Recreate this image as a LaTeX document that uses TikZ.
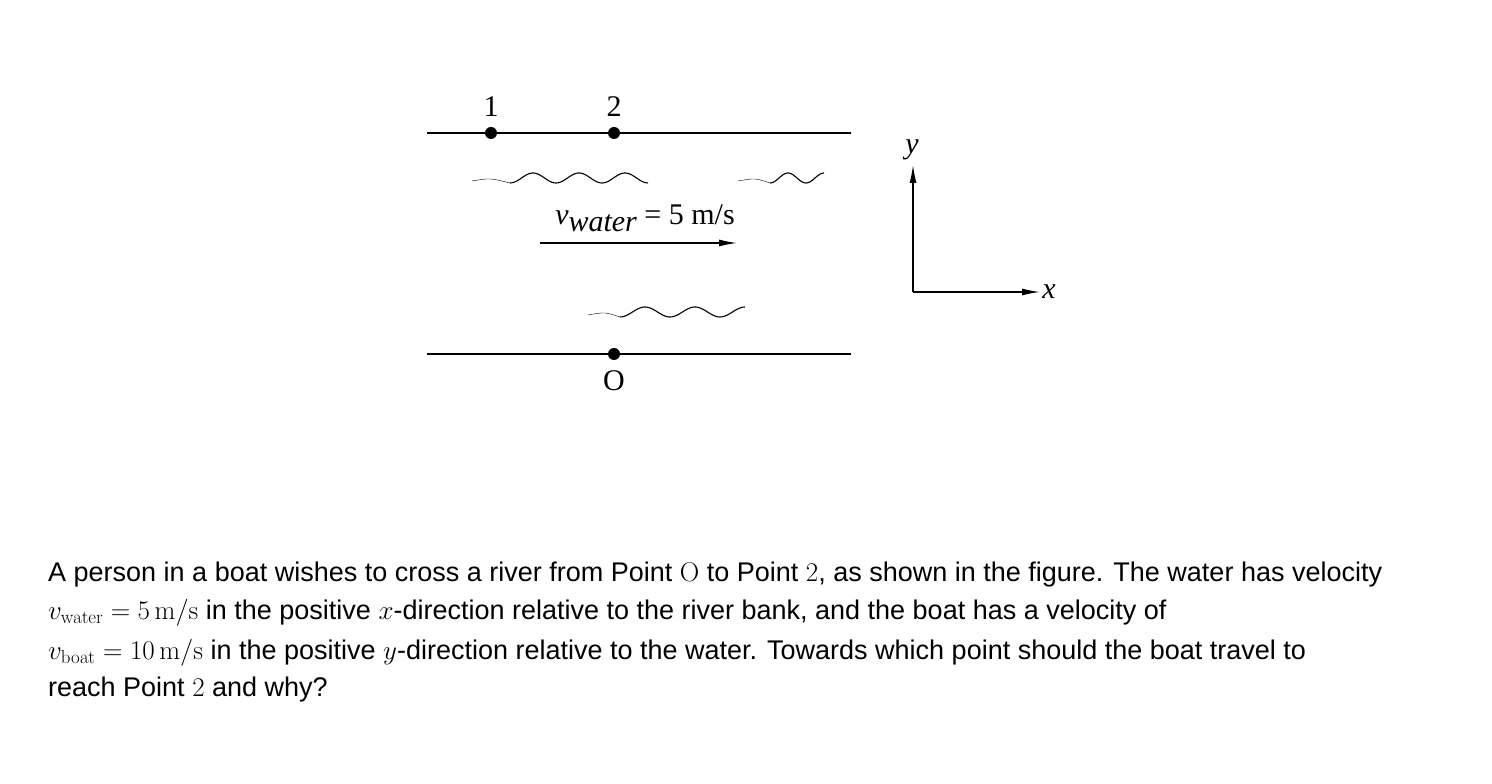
\documentclass[tikz,border=0pt]{standalone}
\usepackage{fix-cm}
\usepackage[no-math]{fontspec}
\setmainfont{Liberation Sans}
\newfontfamily\serifdia{Liberation Serif}
\usetikzlibrary{arrows.meta}
\begin{document}
\begin{tikzpicture}[x=1pt,y=1pt,
  bank/.style={line width=1.3pt},
  dot/.style={circle,fill=black,inner sep=0pt,minimum size=12pt},
  dlab/.style={font=\serifdia\fontsize{30}{32}\selectfont,inner sep=0pt},
  wave/.style={line width=1.1pt},
  txt/.style={anchor=west,inner sep=0pt,font=\fontsize{27}{32}\selectfont}]
\useasboundingbox (0,0) rectangle (1492,784);
% banks
\coordinate (tl) at (427,651); \coordinate (tr) at (851,651);
\coordinate (bl) at (427,430); \coordinate (br) at (851,430);
\draw[bank] (tl) -- (tr);
\draw[bank] (bl) -- (br);
\node[dot] (p1) at (491,651) {};
\node[dot] (p2) at (614,651) {};
\node[dot] (pO) at (614,430) {};
\node[dlab] (l1) at (491,677) {1};
\node[dlab] (l2) at (614,677) {2};
\node[dlab] (lO) at (614,403) {O};
% waves
\draw[wave,domain=0:3,samples=90,smooth] plot ({510+\x*46},{606-5*cos(\x*360)});
\draw[thin] (472,603) .. controls (490,606) .. (510,601);
\draw[wave,domain=0:1.5,samples=50,smooth] plot ({770+\x*36},{606-5*cos(\x*360)});
\draw[thin] (738,603) .. controls (755,606) .. (770,601);
\draw[wave,domain=0:2.5,samples=80,smooth] plot ({620+\x*50},{472-5*cos(\x*360)});
\draw[thin] (588,469) .. controls (605,472) .. (620,467);
% velocity
\node[dlab] (vw) at (645,566) {\textit{v}\raisebox{-7pt}{\textit{water}} = 5 m/s};
\coordinate (va) at (540,541); \coordinate (vb) at (737,541);
\draw[line width=1.3pt,-{Latex[length=18pt,width=7pt]}] (va) -- (vb);
% axes
\coordinate (o) at (913,492);
\coordinate (yt) at (913,619);
\coordinate (xt) at (1040,492);
\draw[line width=1.3pt,-{Latex[length=18pt,width=7pt]}] (o) -- (yt);
\draw[line width=1.3pt,-{Latex[length=18pt,width=7pt]}] (o) -- (xt);
\node[dlab] (ly) at (912,634) {\textit{y}};
\node[dlab] (lx) at (1049,492) {\textit{x}};
% text
\node[txt] (t1) at (48,209) {A person in a boat wishes to cross a river from Point $\mathrm{O}$ to Point $2$, as shown in the figure. The water has velocity};
\node[txt] (t2) at (48,171) {$v_{\mathrm{water}}=5\,\mathrm{m/s}$ in the positive $x$-direction relative to the river bank, and the boat has a velocity of};
\node[txt] (t3) at (48,131) {$v_{\mathrm{boat}}=10\,\mathrm{m/s}$ in the positive $y$-direction relative to the water. Towards which point should the boat travel to};
\node[txt] (t4) at (48,94) {reach Point $2$ and why?};
\end{tikzpicture}
\end{document}
